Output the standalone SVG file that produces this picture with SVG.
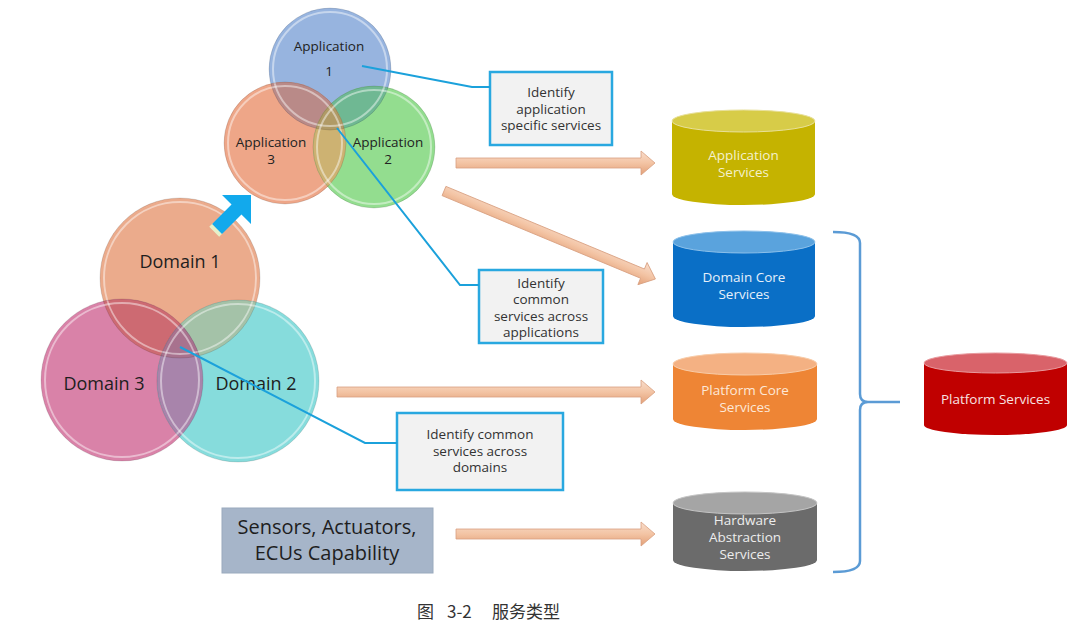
<svg xmlns="http://www.w3.org/2000/svg" width="1080" height="638" viewBox="0 0 1080 638">
<style>
.t{font-family:"Open Sans","Liberation Sans",sans-serif;text-anchor:middle}
.lbl{font-size:13.5px;fill:#222}
.dom{font-size:18px;fill:#1e1e1e}
.box{font-size:13.5px;fill:#333}
.cyl{font-size:13.5px}
.call{fill:#f2f2f2;stroke:#29a8e0;stroke-width:2.5}
.lead{fill:none;stroke:#1ba1db;stroke-width:2}
.oarrow{fill:url(#og);stroke:#d8a080;stroke-width:0.8}
.ring{fill:none;stroke:#fff;stroke-opacity:0.45;stroke-width:2}
.edge{fill:none;stroke:#000;stroke-opacity:0.12;stroke-width:1}
</style>
<defs>
<linearGradient id="og" x1="0" y1="0" x2="0" y2="1">
<stop offset="0" stop-color="#f9ddcc"/>
<stop offset="0.5" stop-color="#f3c4a4"/>
<stop offset="1" stop-color="#e3a078"/>
</linearGradient>
<clipPath id="cD1"><circle cx="180" cy="278" r="80"/></clipPath>
<clipPath id="cD2"><circle cx="238" cy="381" r="81"/></clipPath>
<clipPath id="cD3"><circle cx="122" cy="380" r="81"/></clipPath>
<clipPath id="cA1"><circle cx="330" cy="69" r="61"/></clipPath>
<clipPath id="cA2"><circle cx="374" cy="147" r="61"/></clipPath>
<clipPath id="cA3"><circle cx="285" cy="143" r="61"/></clipPath>
</defs>
<rect width="1080" height="638" fill="#fff"/>

<g id="domain1"><circle cx="180" cy="278" r="80" fill="#ebab8c"/></g>
<g id="domain3"><circle cx="122" cy="380" r="81" fill="#d982a8"/></g>
<g id="domain2"><circle cx="238" cy="381" r="81" fill="#86dcdc"/></g>
<g id="domain-overlaps">
<circle cx="122" cy="380" r="81" fill="#cd6a72" clip-path="url(#cD1)"/>
<circle cx="238" cy="381" r="81" fill="#a4c2a8" clip-path="url(#cD1)"/>
<circle cx="238" cy="381" r="81" fill="#a884ab" clip-path="url(#cD3)"/>
<g clip-path="url(#cD1)"><circle cx="238" cy="381" r="81" fill="#a8728e" clip-path="url(#cD3)"/></g>
</g>
<g id="domain-rings">
<circle class="edge" cx="180" cy="278" r="80"/><circle class="ring" cx="180" cy="278" r="76"/>
<circle class="edge" cx="122" cy="380" r="81"/><circle class="ring" cx="122" cy="380" r="77"/>
<circle class="edge" cx="238" cy="381" r="81"/><circle class="ring" cx="238" cy="381" r="77"/>
</g>
<g id="domain-labels">
<text class="t dom" x="180" y="268">Domain 1</text>
<text class="t dom" x="104" y="390">Domain 3</text>
<text class="t dom" x="256" y="390">Domain 2</text>
</g>

<g id="app1"><circle cx="330" cy="69" r="61" fill="#97b4df"/></g>
<g id="app3"><circle cx="285" cy="143" r="61" fill="#eea688"/></g>
<g id="app2"><circle cx="374" cy="147" r="61" fill="#93dd8f"/></g>
<g id="app-overlaps">
<circle cx="285" cy="143" r="61" fill="#b98a88" clip-path="url(#cA1)"/>
<circle cx="374" cy="147" r="61" fill="#6fb893" clip-path="url(#cA1)"/>
<circle cx="374" cy="147" r="61" fill="#cdb272" clip-path="url(#cA3)"/>
<g clip-path="url(#cA1)"><circle cx="374" cy="147" r="61" fill="#b09a66" clip-path="url(#cA3)"/></g>
</g>
<g id="app-rings">
<circle class="edge" cx="330" cy="69" r="61"/><circle class="ring" cx="330" cy="69" r="57"/>
<circle class="edge" cx="285" cy="143" r="61"/><circle class="ring" cx="285" cy="143" r="57"/>
<circle class="edge" cx="374" cy="147" r="61"/><circle class="ring" cx="374" cy="147" r="57"/>
</g>
<g id="app-labels">
<text class="t lbl" x="329" y="51">Application</text>
<text class="t lbl" x="329" y="76">1</text>
<text class="t lbl" x="271" y="147">Application</text>
<text class="t lbl" x="271" y="164">3</text>
<text class="t lbl" x="388" y="147">Application</text>
<text class="t lbl" x="388" y="164">2</text>
</g>

<g id="sensors">
<rect x="222" y="508" width="211" height="65" fill="#a6b5c9" stroke="#9aaabd" stroke-width="1"/>
<text class="t" x="327" y="534" style="font-size:20px;fill:#1e1e1e">Sensors, Actuators,</text>
<text class="t" x="327" y="560" style="font-size:20px;fill:#1e1e1e">ECUs Capability</text>
</g>

<g id="callout-app-specific">
<rect class="call" x="490" y="72" width="122" height="73"/>
<text class="t box" x="551" y="97">Identify</text>
<text class="t box" x="551" y="114">application</text>
<text class="t box" x="551" y="130">specific services</text>
</g>
<g id="callout-across-apps">
<rect class="call" x="479" y="270" width="124" height="73"/>
<text class="t box" x="541" y="288">Identify</text>
<text class="t box" x="541" y="304">common</text>
<text class="t box" x="541" y="321">services across</text>
<text class="t box" x="541" y="337">applications</text>
</g>
<g id="callout-across-domains">
<rect class="call" x="397" y="413" width="166" height="77"/>
<text class="t box" x="480" y="439">Identify common</text>
<text class="t box" x="480" y="456">services across</text>
<text class="t box" x="480" y="472">domains</text>
</g>

<g id="cyl-application">
<path d="M672,121 L672,194 A71.5,11 0 0 0 815,194 L815,121 Z" fill="#c5b300"/>
<ellipse cx="743.5" cy="121" rx="71.5" ry="11" fill="#d7cc48" stroke="#e8e09a" stroke-width="1"/>
<text class="t cyl" x="743.5" y="160" fill="#f4f1cc">Application</text>
<text class="t cyl" x="743.5" y="177" fill="#f4f1cc">Services</text>
</g>
<g id="cyl-domain-core">
<path d="M673,242 L673,316 A71,11 0 0 0 815,316 L815,242 Z" fill="#0a6fc6"/>
<ellipse cx="744" cy="242" rx="71" ry="11" fill="#5aa3dd" stroke="#8cc0ea" stroke-width="1"/>
<text class="t cyl" x="744" y="282" fill="#e6f0fa">Domain Core</text>
<text class="t cyl" x="744" y="299" fill="#e6f0fa">Services</text>
</g>
<g id="cyl-platform-core">
<path d="M673,364 L673,419 A72,11 0 0 0 817,419 L817,364 Z" fill="#ee8535"/>
<ellipse cx="745" cy="364" rx="72" ry="11" fill="#f4b183" stroke="#f8cca8" stroke-width="1"/>
<text class="t cyl" x="745" y="395" fill="#fde8d8">Platform Core</text>
<text class="t cyl" x="745" y="412" fill="#fde8d8">Services</text>
</g>
<g id="cyl-hardware">
<path d="M673,503 L673,560 A72,11 0 0 0 817,560 L817,503 Z" fill="#6b6b6b"/>
<ellipse cx="745" cy="503" rx="72" ry="11" fill="#a5a5a5" stroke="#c4c4c4" stroke-width="1"/>
<text class="t cyl" x="745" y="525" fill="#ededed">Hardware</text>
<text class="t cyl" x="745" y="542" fill="#ededed">Abstraction</text>
<text class="t cyl" x="745" y="559" fill="#ededed">Services</text>
</g>
<g id="cyl-platform-services">
<path d="M924,363 L924,425 A71.5,10 0 0 0 1067,425 L1067,363 Z" fill="#c00000"/>
<ellipse cx="995.5" cy="363" rx="71.5" ry="10" fill="#d9636a" stroke="#e89a9e" stroke-width="1"/>
<text class="t cyl" x="995.5" y="404" fill="#f8e2e2">Platform Services</text>
</g>

<g id="connectors">
<path class="lead" d="M362,66 L472,87 L490,87"/>
<path class="lead" d="M337,128 L460,285 L479,285"/>
<path class="lead" d="M180,347 L365,443 L397,443"/>
<path class="oarrow" transform="translate(456,163)" d="M0,-5 L185,-5 L185,-12 L199,0 L185,12 L185,5 L0,5 Z"/>
<path class="oarrow" transform="translate(444,191) rotate(22.6)" d="M0,-5 L215,-5 L215,-12 L229,0 L215,12 L215,5 L0,5 Z"/>
<path class="oarrow" transform="translate(337,392)" d="M0,-5 L304,-5 L304,-12 L318,0 L304,12 L304,5 L0,5 Z"/>
<path class="oarrow" transform="translate(456,534)" d="M0,-5 L185,-5 L185,-12 L199,0 L185,12 L185,5 L0,5 Z"/>
<g transform="translate(251,195) rotate(-45)">
<rect x="-52" y="-7" width="5" height="14" fill="#e6f0c8"/>
<path d="M0,0 L-20.5,-20.5 L-20.5,-7 L-48,-7 L-48,7 L-20.5,7 L-20.5,20.5 Z" fill="#12a9ec"/>
</g>
<path d="M833,232 Q860,232 860,243 L860,394 Q860,402 868,402 Q860,402 860,410 L860,561 Q860,572 833,572 M868,402 L900,402" fill="none" stroke="#5b9bd5" stroke-width="2.5"/>
</g>

<g id="caption">
<text x="417" y="618" style="font-family:'Noto Sans CJK SC',sans-serif;font-size:17px;fill:#333"><tspan x="417">图</tspan><tspan x="447">3-2</tspan><tspan x="492">服务类型</tspan></text>
</g>
</svg>
